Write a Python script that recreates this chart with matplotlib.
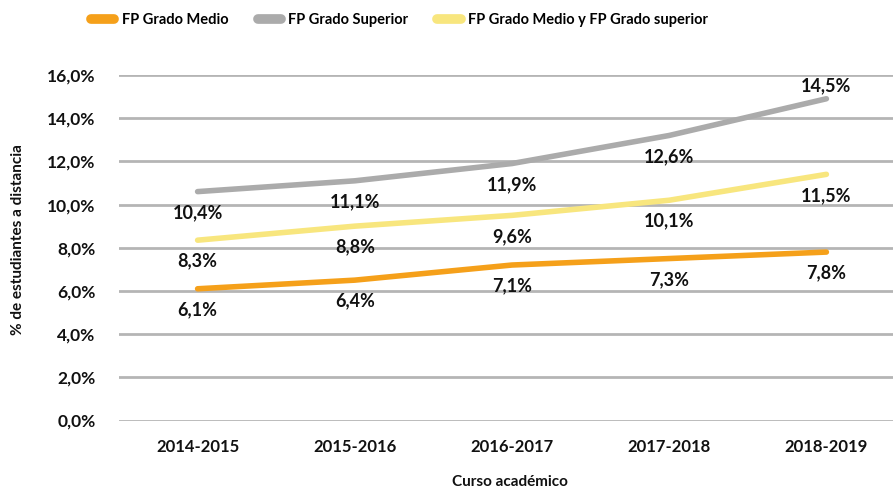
import matplotlib
matplotlib.use("Agg")
import matplotlib.pyplot as plt
from matplotlib.lines import Line2D

categories = ["2014-2015", "2015-2016", "2016-2017", "2017-2018", "2018-2019"]
series_names = ["FP Grado Medio", "FP Grado Superior", "FP Grado Medio y FP Grado superior"]
medio = [6.1, 6.5, 7.2, 7.5, 7.8]
superior = [10.6, 11.1, 11.9, 13.2, 14.9]
ambos = [8.35, 9.0, 9.5, 10.2, 11.4]
medio_labels = ["6,1%", "6,4%", "7,1%", "7,3%", "7,8%"]
superior_labels = ["10,4%", "11,1%", "11,9%", "12,6%", "14,5%"]
ambos_labels = ["8,3%", "8,8%", "9,6%", "10,1%", "11,5%"]
yticks = [0, 2, 4, 6, 8, 10, 12, 14, 16]
ytick_labels = ["0,0%", "2,0%", "4,0%", "6,0%", "8,0%", "10,0%", "12,0%", "14,0%", "16,0%"]

colors = ["#F5A01A", "#ABABAB", "#F8E67E"]
FONT = "Lato"

fig = plt.figure(figsize=(8.93, 4.90), dpi=100)
ax = fig.add_axes([119/893, 1-420.5/490, (905-119)/893, (420.5-75)/490])
ax.set_xlim(-0.5, 4.5)
ax.set_ylim(0, 16)
for s in ax.spines.values():
    s.set_visible(False)
ax.set_yticks(yticks)
ax.set_yticklabels(ytick_labels, fontsize=12.5, fontweight="bold", family=FONT)
ax.set_xticks(range(len(categories)))
ax.set_xticklabels(categories, fontsize=12, fontweight="bold", family=FONT)
ax.tick_params(axis="both", length=0, colors="#111111")
ax.tick_params(axis="y", pad=17)
ax.tick_params(axis="x", pad=13)
ax.grid(axis="y", color="#B5B5B5", linewidth=2)
ax.set_axisbelow(True)

x = list(range(len(categories)))
data = [medio, superior, ambos]
labels = [medio_labels, superior_labels, ambos_labels]
for vals, col in zip(data, colors):
    ax.plot(x, vals, color=col, linewidth=4, solid_capstyle="round", solid_joinstyle="round", zorder=3)

for vals, labs, idx in zip(data, labels, range(3)):
    for i, (v, l) in enumerate(zip(vals, labs)):
        off = 13 if (idx == 1 and i == 4) else -21
        ax.annotate(l, (i, v), xytext=(0, off), textcoords="offset pixels",
                    ha="center", va="center", fontsize=13, fontweight="bold", family=FONT,
                    color="#111111", zorder=4)

fig.text(510/893, 1-482/490, "Curso académico", ha="center", va="center",
         fontsize=11, family=FONT, fontweight="bold", color="#111111")
fig.text(18/893, 1-240/490, "% de estudiantes a distancia", rotation=90, ha="center", va="center",
         fontsize=11, family=FONT, fontweight="bold", color="#111111")

handles = [Line2D([0], [0], color=c, linewidth=7, solid_capstyle="round") for c in colors]
fig.legend(handles, series_names, loc="center left", bbox_to_anchor=(78/893, 1-20/490), ncol=3,
           frameon=False, handlelength=1.6, columnspacing=2.0, handletextpad=0.5,
           prop={"family": FONT, "weight": "bold", "size": 10.5})

fig.savefig("out.png", dpi=100)
